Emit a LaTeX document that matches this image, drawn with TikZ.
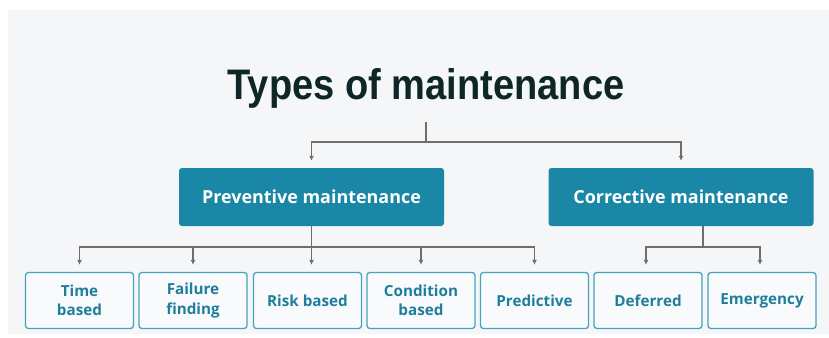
\documentclass[tikz,border=0pt]{standalone}
\usepackage{fontspec}
\setmainfont{Open Sans}
\newfontfamily\headfont{Liberation Sans}
\usetikzlibrary{arrows.meta}

\definecolor{pagebg}{HTML}{F5F6F8}
\definecolor{headink}{HTML}{0E2626}
\definecolor{tealbox}{HTML}{1A87A6}
\definecolor{tealline}{HTML}{46A3BF}
\definecolor{tealtext}{HTML}{1E7E9C}
\definecolor{linkgray}{HTML}{6E6E6E}

\tikzset{
  mainbox/.style={rectangle,rounded corners=2.5,fill=tealbox,text=white,
    minimum width=265*0.3mm,minimum height=58*0.3mm,
    font=\fontsize{15.3}{18}\selectfont\bfseries},
  subbox/.style={rectangle,rounded corners=2.5,draw=tealline,line width=1.1pt,
    fill=white!40!pagebg,text=tealtext,align=center,
    minimum width=108*0.3mm,minimum height=56*0.3mm,
    font=\fontsize{13}{16.5}\selectfont\bfseries},
  link/.style={draw=linkgray,line width=0.9pt},
  linkarrow/.style={link,-{Latex[length=1.5mm,width=1.5mm]},shorten >=2.1mm},
}

\begin{document}
\begin{tikzpicture}[x=0.3mm,y=-0.3mm]
\useasboundingbox (0,0) rectangle (829,338);
\fill[pagebg] (8,10) rectangle (829,334);

\node(T) at (426,88) [text=headink,inner sep=0pt]
  {\scalebox{0.89}[1]{\headfont\fontsize{36.5}{40}\selectfont\bfseries Types of maintenance}};

\node(P) at (311.5,197) [mainbox]{Preventive maintenance};
\node(C) at (681,197) [mainbox]{Corrective maintenance};

\node(S1) at (79.5,300.5) [subbox]{Time\\based};
\node(S2) at (193,300.5) [subbox]{Failure\\finding};
\node(S3) at (307.5,300.5) [subbox]{Risk based};
\node(S4) at (421,300.5) [subbox]{Condition\\based};
\node(S5) at (534.5,300.5) [subbox]{Predictive};
\node(S6) at (648,300.5) [subbox]{Deferred};
\node(S7) at (762,300.5) [subbox]{Emergency};

% junction points of the tree
\coordinate(TT) at (426,122);
\coordinate(TJ) at (426,142);
\coordinate(PJ) at (311.5,247);
\coordinate(CJ) at (703,247);

\draw[link] (TT) -- (TJ);
\draw[linkarrow] (TJ) -| (P.north);
\draw[linkarrow] (TJ) -| (C.north);

\draw[link] (P.south) -- (PJ);
\draw[linkarrow] (PJ) -| (S1.north);
\draw[linkarrow] (PJ) -| (S2.north);
\draw[linkarrow] (PJ) -- (PJ |- S3.north);
\draw[linkarrow] (PJ) -| (S4.north);
\draw[linkarrow] (PJ) -| (S5.north);

\draw[link] (CJ |- C.south) -- (CJ);
\draw[linkarrow] (CJ) -| ([xshift=-0.6mm]S6.north);
\draw[linkarrow] (CJ) -| ([xshift=-0.6mm]S7.north);
\end{tikzpicture}
\end{document}
